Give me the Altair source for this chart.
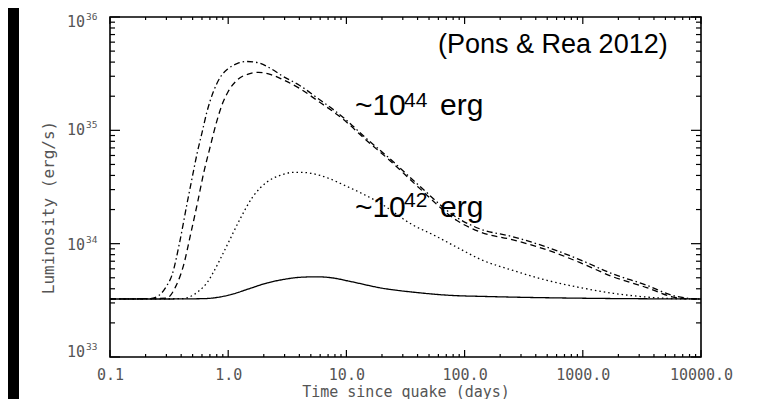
import altair as alt
import pandas as pd

# ---------------- data ----------------
t_solid = [0.1, 0.3, 0.6, 0.8, 1.1, 1.5, 2.13, 3.0, 4.05, 5.6, 7.5, 10.7, 20, 40, 75, 150, 240, 1000, 10000]
L_solid = [3.25e33, 3.25e33, 3.27e33, 3.35e33, 3.6e33, 4.0e33, 4.5e33, 4.85e33, 5.05e33, 5.1e33, 5.0e33,
           4.65e33, 4.05e33, 3.7e33, 3.5e33, 3.42e33, 3.38e33, 3.3e33, 3.25e33]

t_dot = [0.1, 0.4, 0.475, 0.56, 0.66, 0.75, 0.85, 1.03, 1.26, 1.62, 2.13, 2.74, 3.5, 4.3, 6.0, 10.1, 19, 37,
         54, 86, 135, 257, 498, 946, 1800, 3470, 6000, 10000]
L_dot = [3.25e33, 3.27e33, 3.4e33, 3.8e33, 4.5e33, 5.6e33, 7.2e33, 1.08e34, 1.65e34, 2.6e34, 3.5e34, 4.0e34,
         4.25e34, 4.25e34, 4.0e34, 3.2e34, 2.3e34, 1.45e34, 1.2e34, 9.3e33, 7.3e33, 5.8e33, 4.75e33, 4.1e33,
         3.65e33, 3.38e33, 3.27e33, 3.25e33]

t_dash = [0.1, 0.3, 0.36, 0.42, 0.48, 0.55, 0.62, 0.70, 0.80, 0.90, 1.0, 1.2, 1.5, 1.8, 2.3, 2.9, 4.0, 5.6,
          9.4, 14.9, 23.4, 40, 86, 135, 257, 500, 950, 1800, 3470, 5700, 8500, 10000]
L_dash = [3.25e33, 3.3e33, 4.2e33, 6.5e33, 1.2e34, 2.3e34, 4.2e34, 7.0e34, 1.2e35, 1.75e35, 2.2e35, 2.8e35,
          3.15e35, 3.25e35, 3.1e35, 2.8e35, 2.35e35, 1.85e35, 1.25e35, 8.1e34, 5.4e34, 3.2e34, 1.6e34,
          1.27e34, 1.08e34, 8.8e33, 6.8e33, 5.1e33, 4.1e33, 3.4e33, 3.25e33, 3.25e33]

t_dashdot = [0.1, 0.22, 0.26, 0.30, 0.335, 0.39, 0.45, 0.50, 0.55, 0.60, 0.66, 0.75, 0.85, 1.0, 1.2, 1.45,
             1.8, 2.3, 2.9, 4.0, 5.6, 9.4, 14.9, 23.4, 40, 86, 135, 257, 500, 950, 1800, 3470, 5700, 8500, 10000]
L_dashdot = [3.25e33, 3.28e33, 3.5e33, 4.2e33, 5.3e33, 1.05e34, 2.3e34, 4.0e34, 6.5e34, 9.5e34, 1.45e35,
             2.2e35, 2.9e35, 3.5e35, 3.9e35, 4.05e35, 3.95e35, 3.5e35, 3.0e35, 2.5e35, 1.95e35, 1.3e35,
             8.4e34, 5.6e34, 3.35e34, 1.7e34, 1.35e34, 1.15e34, 9.3e33, 7.2e33, 5.4e33, 4.3e33, 3.5e33,
             3.27e33, 3.25e33]

SERIES = ["solid", "dotted", "dashed", "dashdot"]
DASHES = [[1, 0], [1.5, 3], [6, 4], [6, 3, 1.5, 3]]

X_LABEL_VALUES = [0.1, 1, 10, 100, 1000, 10000]
X_LABELS = ["0.1", "1.0", "10.0", "100.0", "1000.0", "10000.0"]
Y_LABEL_VALUES = [1e33, 1e34, 1e35, 1e36]
Y_LABEL_BASE = ["10", "10", "10", "10"]
Y_LABEL_EXP = ["33", "34", "35", "36"]
Y_LABEL_SHIFT = [-5, 1, 0, 5]
X_MINOR = [m * 10.0 ** e for e in range(-1, 4) for m in range(2, 10)]
Y_MINOR = [m * 10.0 ** e for e in range(33, 36) for m in range(2, 10)]

ANN_TEXT = ["(Pons & Rea 2012)", "~10", "44", "erg", "~10", "42", "erg"]
ANN_T = [59.6, 11.8, 30.7, 62.0, 11.8, 30.7, 62.0]
ANN_L = [10 ** 35.683, 10 ** 35.136, 10 ** 35.207, 10 ** 35.136, 10 ** 34.236, 10 ** 34.324, 10 ** 34.236]
ANN_SIZE = [27, 30, 21, 30, 30, 21, 30]

# ---------------- build tables ----------------
rows = []
for name, ts, ls in zip(SERIES, [t_solid, t_dot, t_dash, t_dashdot], [L_solid, L_dot, L_dash, L_dashdot]):
    for i, (t, l) in enumerate(zip(ts, ls)):
        rows.append({"series": name, "t": t, "L": l, "i": i})
curves = pd.DataFrame(rows)

W, H = 591, 340
LABEL_FONT = "DejaVu Sans Mono"
LABEL_COLOR = "#555555"


def lab_expr(vals, labs):
    expr = "''"
    for v, l in reversed(list(zip(vals, labs))):
        expr = f"(abs(datum.value - {v!r}) < {abs(v) * 1e-6!r} ? '{l}' : {expr})"
    return expr


xscale = alt.Scale(type="log", domain=[0.1, 10000], nice=False)
yscale = alt.Scale(type="log", domain=[1e33, 1e36], nice=False)

xaxis = alt.Axis(values=X_LABEL_VALUES, labelExpr=lab_expr(X_LABEL_VALUES, X_LABELS), domain=False,
                 ticks=False, grid=False, labelFont=LABEL_FONT, labelFontSize=15, labelColor=LABEL_COLOR,
                 labelPadding=22, labelBaseline="alphabetic", labelFlush=False, labelOverlap=False,
                 title="Time since quake (days)", titleFont=LABEL_FONT, titleFontSize=15,
                 titleFontWeight="normal", titleColor=LABEL_COLOR, titleX=W / 2, titleY=39,
                 titleBaseline="alphabetic", titleAlign="center", zindex=1)
yaxis = alt.Axis(values=Y_LABEL_VALUES, labels=False, domain=False, ticks=False, grid=False,
                 title="Luminosity (erg/s)", titleFont=LABEL_FONT, titleFontSize=16,
                 titleFontWeight="normal", titleColor=LABEL_COLOR, titleX=-62, titleY=190,
                 titleAngle=270, titleAlign="center", titleBaseline="middle", zindex=1)


def X():
    return alt.X("t:Q", scale=xscale, axis=xaxis)


def Y():
    return alt.Y("L:Q", scale=yscale, axis=yaxis)


one = pd.DataFrame({"a": [0]})

strip = alt.Chart(one).mark_rect(color="black").encode(
    x=alt.value(-102), x2=alt.value(-91), y=alt.value(-9), y2=alt.value(382))

lines = alt.Chart(curves).mark_line(color="black", strokeWidth=1.3, interpolate="monotone").encode(
    x=X(), y=Y(),
    strokeDash=alt.StrokeDash("series:N", scale=alt.Scale(domain=SERIES, range=DASHES), legend=None),
    detail="series:N", order="i:Q")

ymaj = pd.DataFrame({"L": Y_LABEL_VALUES})
ymin = pd.DataFrame({"L": Y_MINOR})
xmaj = pd.DataFrame({"t": X_LABEL_VALUES})
xmin = pd.DataFrame({"t": X_MINOR})

tick_style = dict(color="black", strokeWidth=1.2)
ticks = [
    alt.Chart(ymaj).mark_rule(**tick_style).encode(y=Y(), x=alt.value(0), x2=alt.value(10)),
    alt.Chart(ymaj).mark_rule(**tick_style).encode(y=Y(), x=alt.value(W - 10), x2=alt.value(W)),
    alt.Chart(ymin).mark_rule(**tick_style).encode(y=Y(), x=alt.value(0), x2=alt.value(5)),
    alt.Chart(ymin).mark_rule(**tick_style).encode(y=Y(), x=alt.value(W - 5), x2=alt.value(W)),
    alt.Chart(xmaj).mark_rule(**tick_style).encode(x=X(), y=alt.value(H - 7), y2=alt.value(H)),
    alt.Chart(xmaj).mark_rule(**tick_style).encode(x=X(), y=alt.value(0), y2=alt.value(7)),
    alt.Chart(xmin).mark_rule(**tick_style).encode(x=X(), y=alt.value(H - 3), y2=alt.value(H)),
    alt.Chart(xmin).mark_rule(**tick_style).encode(x=X(), y=alt.value(0), y2=alt.value(3)),
]

# y tick labels: "10" with a raised exponent
ylabels = pd.DataFrame({"L": Y_LABEL_VALUES, "base": Y_LABEL_BASE, "exp": Y_LABEL_EXP, "shift": Y_LABEL_SHIFT})
ylab_layers = []
for shift in sorted(set(Y_LABEL_SHIFT)):
    sub = ylabels[ylabels["shift"] == shift]
    ylab_layers.append(
        alt.Chart(sub).mark_text(font=LABEL_FONT, fontSize=15, color=LABEL_COLOR, align="right",
                                 baseline="middle", dy=shift).encode(
            y=Y(), x=alt.value(-25), text="base:N"))
    ylab_layers.append(
        alt.Chart(sub).mark_text(font=LABEL_FONT, fontSize=9.5, color=LABEL_COLOR, align="left",
                                 baseline="middle", dy=shift - 5).encode(
            y=Y(), x=alt.value(-24), text="exp:N"))

frame = alt.Chart(one).mark_rect(fillOpacity=0, stroke="black", strokeWidth=1.6).encode(
    x=alt.value(0), x2=alt.value(W), y=alt.value(0), y2=alt.value(H))

ann = pd.DataFrame({"text": ANN_TEXT, "t": ANN_T, "L": ANN_L, "size": ANN_SIZE})
texts = alt.Chart(ann).mark_text(font="Liberation Sans", align="left", baseline="alphabetic",
                                 color="black").encode(
    x=X(), y=Y(), text="text:N", size=alt.Size("size:Q", scale=None))

chart = alt.layer(strip, lines, *ticks, *ylab_layers, frame, texts).properties(
    width=W, height=H,
    autosize=alt.AutoSizeParams(type="none"),
    padding={"left": 102, "top": 9, "right": 54, "bottom": 42},
    background="white",
).configure_view(stroke=None)

chart.save("out.html", embed_options={"renderer": "svg", "actions": False})
